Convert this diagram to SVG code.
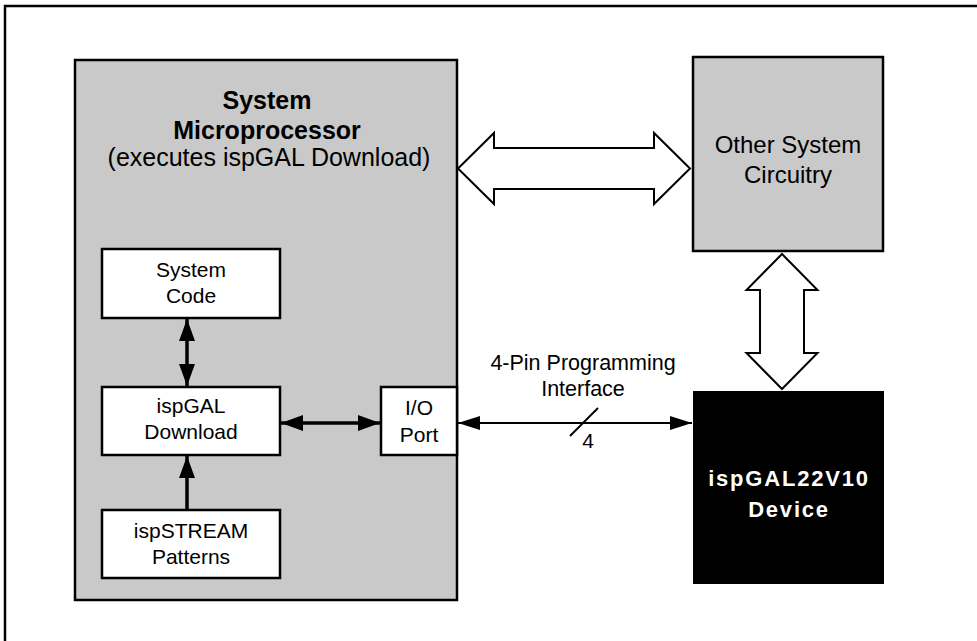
<svg xmlns="http://www.w3.org/2000/svg" width="977" height="641" viewBox="0 0 977 641">
<defs>
<style>
.t{font-family:"Liberation Sans",Arial,sans-serif;fill:#000;text-anchor:middle}
.box{fill:#fff;stroke:#000;stroke-width:2.5}
.gray{fill:#c9c9c9;stroke:#000;stroke-width:2.5}
.hollow{fill:#fff;stroke:#000;stroke-width:2;stroke-linejoin:miter}
.thick{stroke:#000;stroke-width:3.5;fill:none}
.thin{stroke:#000;stroke-width:2;fill:none}
</style>
<marker id="hb" viewBox="0 0 22 16" refX="22" refY="8" markerWidth="22" markerHeight="16" markerUnits="userSpaceOnUse" orient="auto-start-reverse">
<path d="M0,0 L22,8 L0,16 Z" fill="#000"/>
</marker>
<marker id="hs" viewBox="0 0 22 14" refX="22" refY="7" markerWidth="22" markerHeight="14" markerUnits="userSpaceOnUse" orient="auto-start-reverse">
<path d="M0,0 L22,7 L0,14 Z" fill="#000"/>
</marker>
</defs>
<rect width="977" height="641" fill="#fff"/>
<path d="M5,641 L5,6 L977,6" fill="none" stroke="#000" stroke-width="2.5"/>

<g id="microprocessor">
<rect class="gray" x="75" y="60" width="382" height="540"/>
<text class="t" x="267" y="109" font-size="25" font-weight="bold">System</text>
<text class="t" x="267" y="139" font-size="25" font-weight="bold">Microprocessor</text>
<text class="t" x="269" y="166" font-size="25">(executes ispGAL Download)</text>
</g>

<g id="system-code">
<rect class="box" x="102" y="249" width="178" height="69"/>
<text class="t" x="191" y="277" font-size="21">System</text>
<text class="t" x="191" y="303" font-size="21">Code</text>
</g>

<g id="ispgal-download">
<rect class="box" x="102" y="387" width="178" height="68"/>
<text class="t" x="191" y="413" font-size="21">ispGAL</text>
<text class="t" x="191" y="439" font-size="21">Download</text>
</g>

<g id="ispstream-patterns">
<rect class="box" x="102" y="510" width="178" height="68"/>
<text class="t" x="191" y="538" font-size="21">ispSTREAM</text>
<text class="t" x="191" y="564" font-size="21">Patterns</text>
</g>

<g id="io-port">
<rect class="box" x="381" y="387" width="76" height="68"/>
<text class="t" x="419" y="415" font-size="21">I/O</text>
<text class="t" x="419" y="442" font-size="21">Port</text>
</g>

<g id="other-circuitry">
<rect class="gray" x="693" y="57" width="190" height="194"/>
<text class="t" x="788" y="153" font-size="24">Other System</text>
<text class="t" x="788" y="183" font-size="24">Circuitry</text>
</g>

<g id="ispgal22v10">
<rect x="693" y="391" width="191" height="193" fill="#000"/>
<text class="t" x="789" y="486" font-size="22" font-weight="bold" letter-spacing="1.8" style="fill:#fff">ispGAL22V10</text>
<text class="t" x="789" y="517" font-size="22" font-weight="bold" letter-spacing="1.8" style="fill:#fff">Device</text>
</g>

<g id="connectors">
<path class="hollow" d="M458,168.5 L494,133 L494,148 L654,148 L654,133 L690,168.5 L654,204 L654,189 L494,189 L494,204 Z"/>
<path class="hollow" d="M782,254 L817.5,290 L804,290 L804,353 L817.5,353 L782,389 L746.5,353 L760,353 L760,290 L746.5,290 Z"/>
<line class="thick" x1="187" y1="319" x2="187" y2="386" marker-start="url(#hb)" marker-end="url(#hb)"/>
<line class="thick" x1="281" y1="423" x2="380" y2="423" marker-start="url(#hb)" marker-end="url(#hb)"/>
<line class="thick" x1="187" y1="510" x2="187" y2="456" marker-end="url(#hb)"/>
<line class="thin" x1="458" y1="423" x2="692" y2="423" marker-start="url(#hs)" marker-end="url(#hs)"/>
<line class="thin" x1="570" y1="436" x2="598" y2="408"/>
<text class="t" x="583" y="370" font-size="21.5">4-Pin Programming</text>
<text class="t" x="583" y="396" font-size="21.5">Interface</text>
<text class="t" x="588" y="448" font-size="21">4</text>
</g>
</svg>
